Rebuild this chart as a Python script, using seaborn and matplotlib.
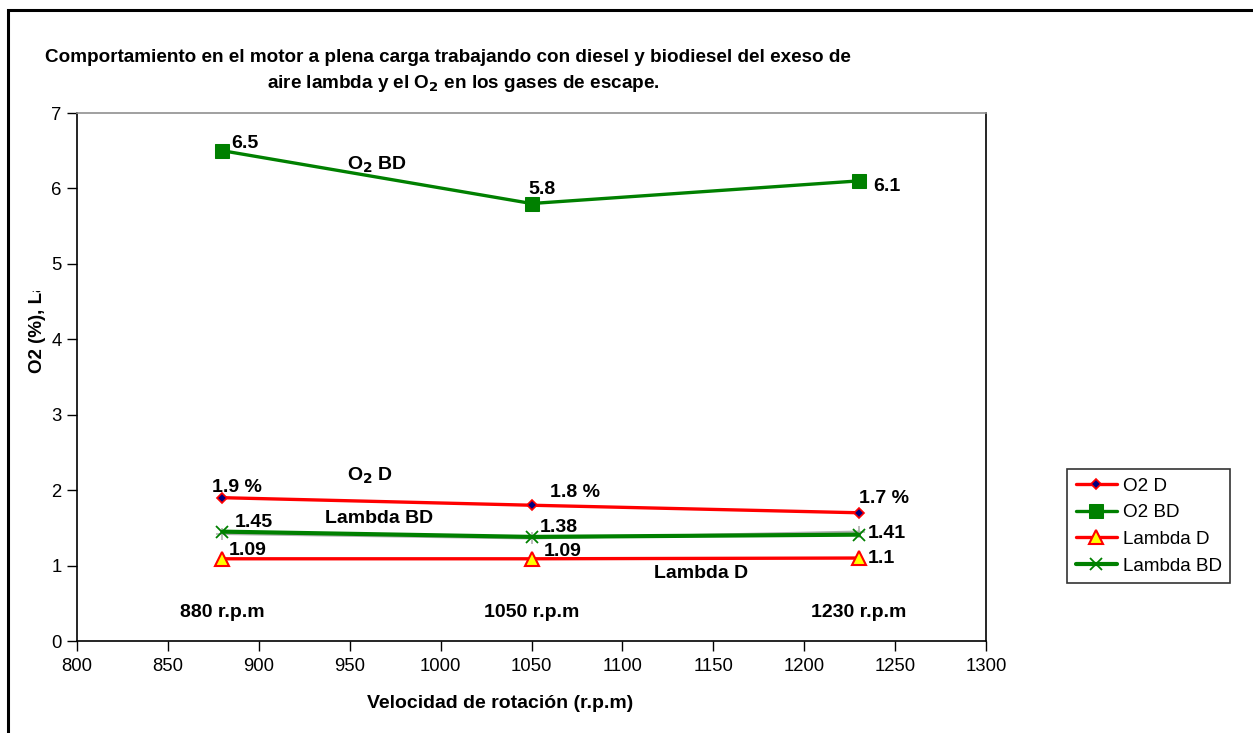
import matplotlib
matplotlib.use("Agg")
import matplotlib.pyplot as plt
import seaborn as sns
import pandas as pd
from matplotlib.patches import Rectangle
from matplotlib.transforms import Bbox

# Engine speeds (r.p.m)
rpm = [880, 1050, 1230]

# Measured series
o2_d = [1.9, 1.8, 1.7]
o2_bd = [6.5, 5.8, 6.1]
lambda_d = [1.09, 1.09, 1.1]
lambda_bd = [1.45, 1.38, 1.41]
lambda_bd_prev = [1.42, 1.36, 1.45]

o2_d_labels = ["1.9 %", "1.8 %", "1.7 %"]
o2_bd_labels = ["6.5", "5.8", "6.1"]
lambda_d_labels = ["1.09", "1.09", "1.1"]
lambda_bd_labels = ["1.45", "1.38", "1.41"]
rpm_labels = ["880 r.p.m", "1050 r.p.m", "1230 r.p.m"]

x_ticks = [800, 850, 900, 950, 1000, 1050, 1100, 1150, 1200, 1250, 1300]
y_ticks = [0, 1, 2, 3, 4, 5, 6, 7]

sns.set_theme(style="white")
plt.rcParams["font.family"] = ["Liberation Sans", "DejaVu Sans"]
plt.rcParams["text.color"] = "black"
plt.rcParams["axes.labelcolor"] = "black"
plt.rcParams["xtick.color"] = "black"
plt.rcParams["ytick.color"] = "black"

W, H = 1253, 733
fig = plt.figure(figsize=(W / 100, H / 100), dpi=100)
ax = fig.add_axes([77 / W, 1 - 641 / H, (986 - 77) / W, (641 - 113) / H])

df = pd.DataFrame({"rpm": rpm, "o2_d": o2_d, "o2_bd": o2_bd,
                   "lambda_d": lambda_d, "lambda_bd": lambda_bd,
                   "lambda_bd_prev": lambda_bd_prev})

sns.lineplot(data=df, x="rpm", y="lambda_bd_prev", ax=ax, color="#b0b0b0",
             lw=1.6, marker="+", markersize=9, markeredgecolor="#b0b0b0",
             markeredgewidth=1.2, zorder=2)
sns.lineplot(data=df, x="rpm", y="o2_d", ax=ax, color="#ff0000", lw=2.4,
             marker="D", markersize=5.5, markerfacecolor="#000080",
             markeredgecolor="#ff0000", markeredgewidth=1.2, label="O2 D", zorder=4)
sns.lineplot(data=df, x="rpm", y="o2_bd", ax=ax, color="#008000", lw=2.4,
             marker="s", markersize=10, markerfacecolor="#008000",
             markeredgecolor="#008000", label="O2 BD", zorder=4)
sns.lineplot(data=df, x="rpm", y="lambda_d", ax=ax, color="#ff0000", lw=2.4,
             marker="^", markersize=10, markerfacecolor="#ffff00",
             markeredgecolor="#ff0000", markeredgewidth=1.5, label="Lambda D", zorder=4)
sns.lineplot(data=df, x="rpm", y="lambda_bd", ax=ax, color="#008000", lw=3.0,
             marker="x", markersize=9, markeredgecolor="#008000",
             markeredgewidth=1.3, label="Lambda BD", zorder=3)

ax.set_xlim(800, 1300)
ax.set_ylim(0, 7)
ax.set_xticks(x_ticks)
ax.set_yticks(y_ticks)
ax.tick_params(axis="both", which="both", direction="out", length=7, width=1,
               color="black", labelcolor="black", labelsize=13.3, pad=4,
               left=True, bottom=True)
ax.tick_params(axis="x", pad=5)
for s in ["left", "bottom", "right"]:
    ax.spines[s].set_color("black")
    ax.spines[s].set_linewidth(1.2)
ax.spines["top"].set_color("#909090")
ax.spines["top"].set_linewidth(1.2)
ax.set_xlabel("Velocidad de rotación (r.p.m)", fontsize=14, fontweight="bold",
              color="black")
ax.xaxis.set_label_coords((500 - 77) / (986 - 77), -(703 - 641) / (641 - 113))
ax.xaxis.label.set_va("center")
ax.set_ylabel("")

# Value labels beside each point
lab_kw = dict(textcoords="offset pixels", fontsize=14, fontweight="bold",
              color="black", ha="left", va="center", zorder=6)
o2_d_off = [(-10, 10), (18, 13), (0, 14)]
o2_bd_off = [(9, 7), (-3, 14), (15, -6)]
lambda_d_off = [(6, 8), (12, 7), (9, 0)]
lambda_bd_off = [(12, 9), (8, 9), (9, 1)]
for i, x in enumerate(rpm):
    ax.annotate(o2_d_labels[i], (x, o2_d[i]), xytext=o2_d_off[i], **lab_kw)
    ax.annotate(o2_bd_labels[i], (x, o2_bd[i]), xytext=o2_bd_off[i], **lab_kw)
    ax.annotate(lambda_d_labels[i], (x, lambda_d[i]), xytext=lambda_d_off[i], **lab_kw)
    ax.annotate(lambda_bd_labels[i], (x, lambda_bd[i]), xytext=lambda_bd_off[i], **lab_kw)
    ax.text(x, 0.38, rpm_labels[i], fontsize=14, fontweight="bold",
            ha="center", va="center", color="black")

# Series names inside the plot
name_kw = dict(fontsize=14, fontweight="bold", ha="center", va="center", color="black")
ax.text(965, 6.31, r"O$_\mathbf{2}$ BD", **name_kw)
ax.text(961, 2.19, r"O$_\mathbf{2}$ D", **name_kw)
ax.text(966, 1.63, "Lambda BD", **name_kw)
ax.text(1143, 0.90, "Lambda D", **name_kw)

# Title
fig.text(448 / W, 1 - 57 / H,
         "Comportamiento en el motor a plena carga trabajando con diesel y biodiesel del exeso de",
         fontsize=13.6, fontweight="bold", ha="center", va="center", color="black")
fig.text(463 / W, 1 - 84 / H, r"aire lambda y el O$_\mathbf{2}$ en los gases de escape.",
         fontsize=13.6, fontweight="bold", ha="center", va="center", color="black")

# Axis title, cut off by its frame
yl = fig.text(38 / W, 1 - 373 / H, "O2 (%), Lambda", rotation=90, fontsize=13.5,
              fontweight="bold", ha="center", va="bottom", color="black")
yl.set_clip_box(Bbox.from_extents(20, H - 376, 60, H - 291))
yl.set_clip_on(True)

# Legend
leg = ax.legend(loc="upper left", bbox_to_anchor=(1067 / W, 1 - 469 / H),
                bbox_transform=fig.transFigure, frameon=True, fancybox=False,
                fontsize=13.6, handlelength=2.2, handletextpad=0.3,
                borderpad=0.45, labelspacing=0.5, borderaxespad=0)
leg.get_frame().set_edgecolor("black")
leg.get_frame().set_linewidth(1.2)
for t in leg.get_texts():
    t.set_color("black")

# Outer chart frame
fig.patches.append(Rectangle((8 / W, -0.1), 1.2, 1 - 10 / H + 0.1,
                             transform=fig.transFigure, fill=False,
                             edgecolor="black", linewidth=2.2))

fig.savefig("out.png", dpi=100, facecolor="white")
